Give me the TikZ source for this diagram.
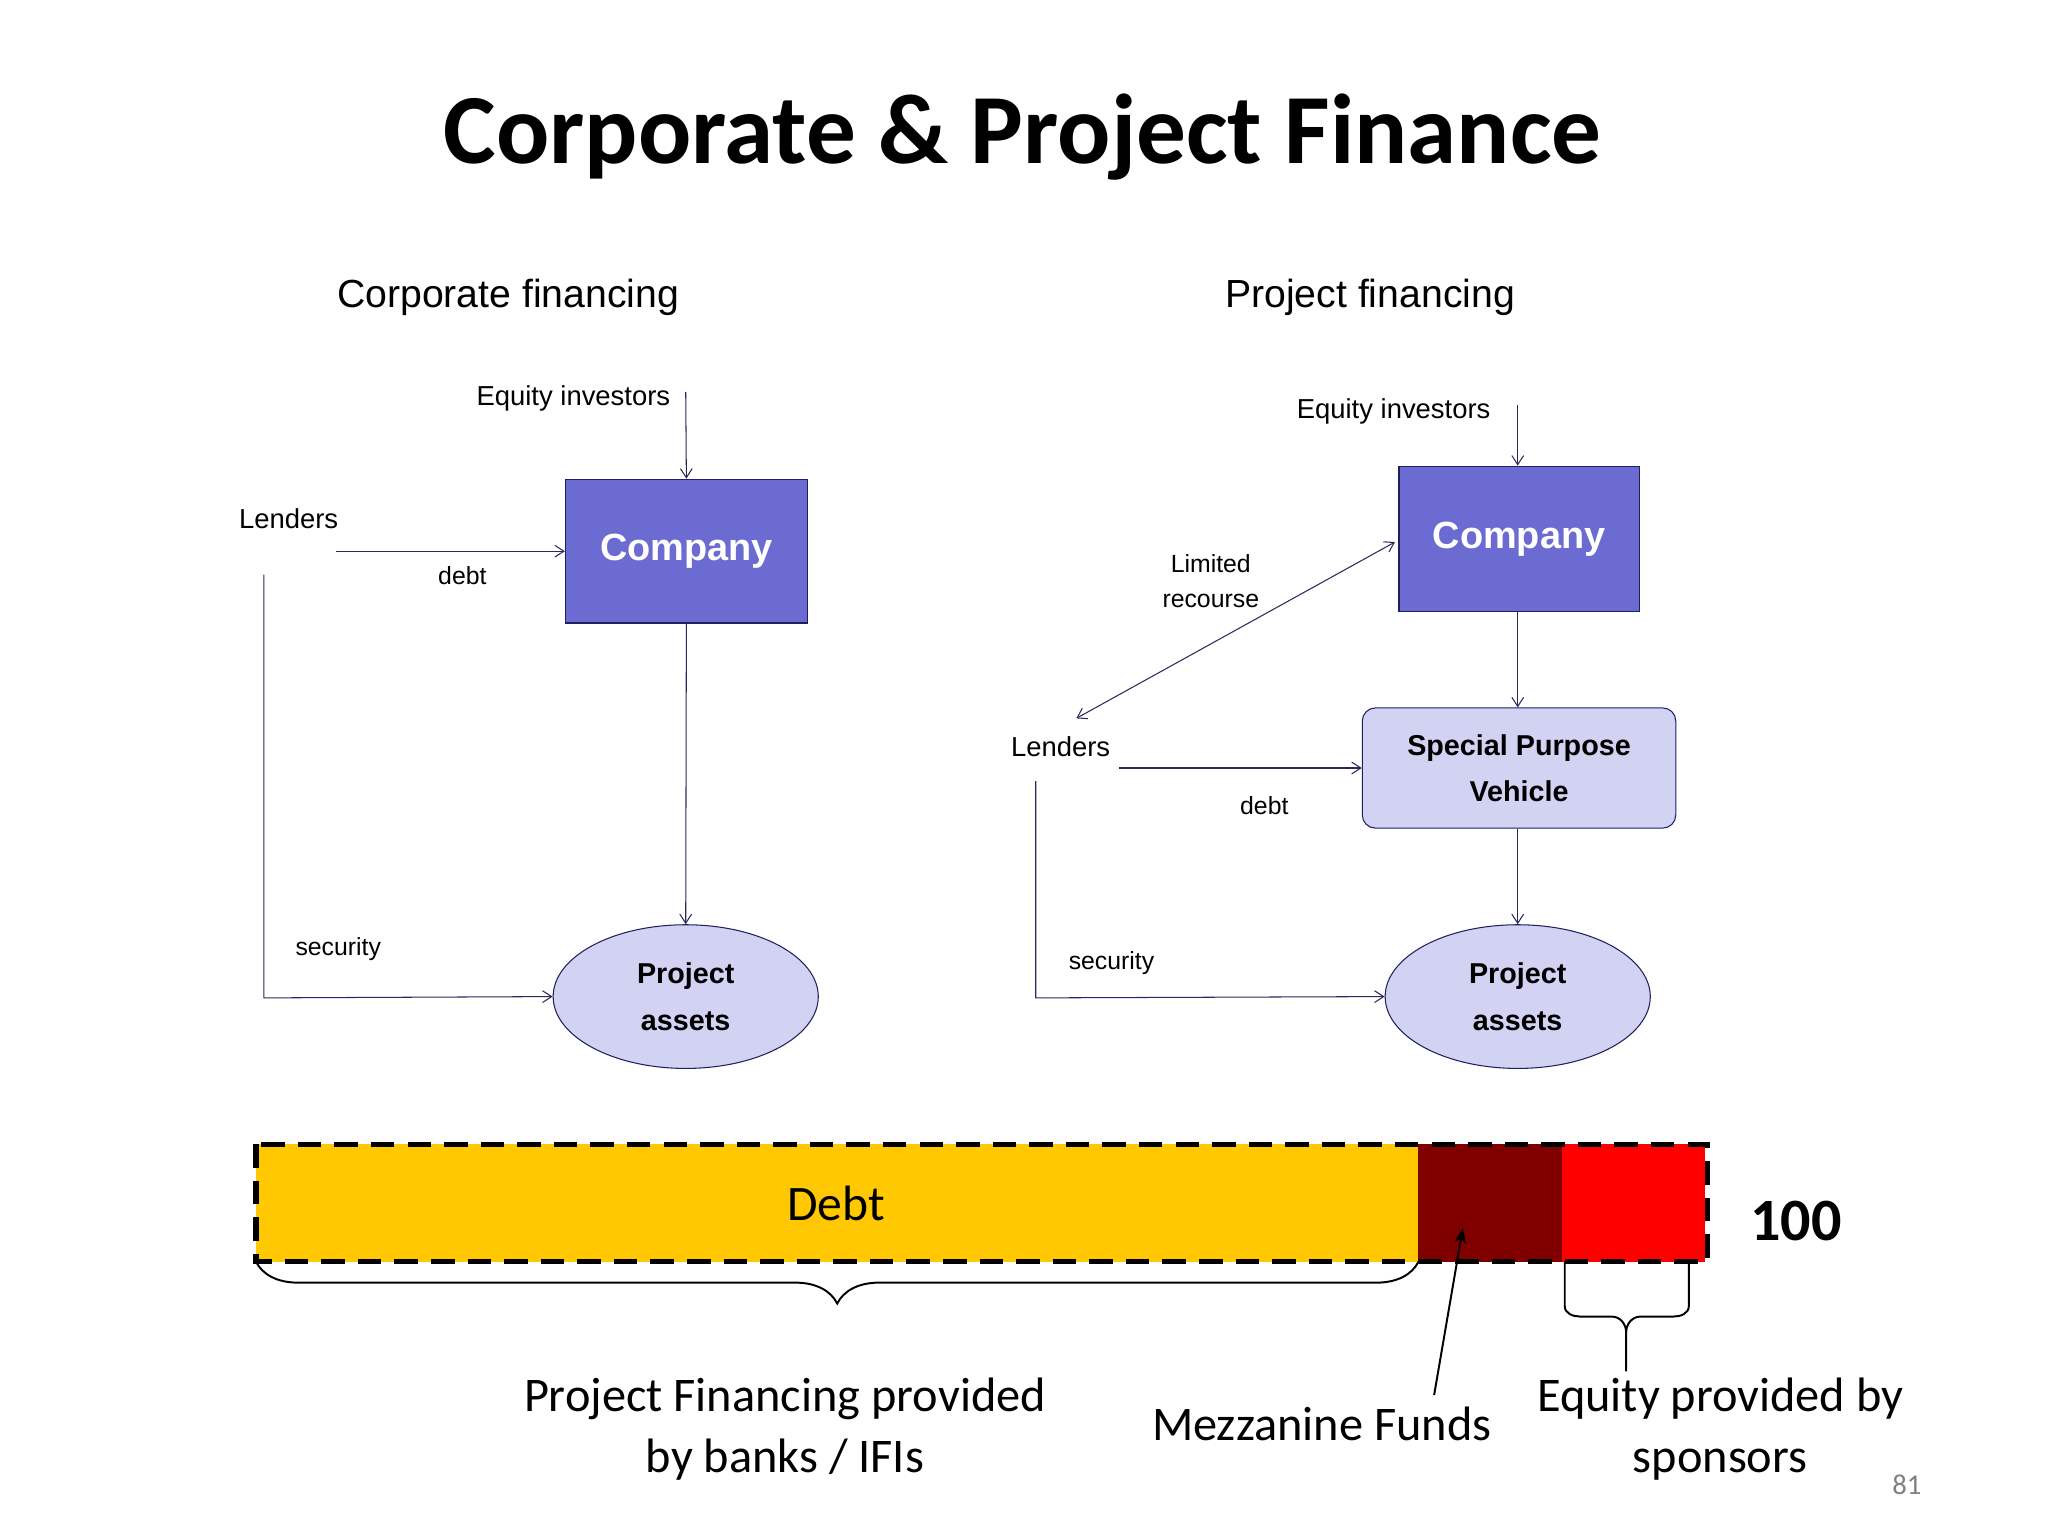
\documentclass[tikz,border=0pt]{standalone}
\usepackage{fontspec}
\setmainfont{Liberation Sans}
\newfontfamily\calfont{Carlito}
\usetikzlibrary{decorations.pathreplacing,arrows.meta,shapes.geometric}
\definecolor{boxblue}{HTML}{6B6BD2}
\definecolor{boxnavy}{HTML}{1F1F5F}
\definecolor{lightv}{HTML}{D2D2F2}
\definecolor{lineblue}{HTML}{2A2A5A}
\definecolor{barY}{HTML}{FFC800}
\definecolor{barM}{HTML}{800000}
\definecolor{barR}{HTML}{FF0000}
\tikzset{
 conn/.style={lineblue,line width=0.8pt,-{Straight Barb[length=7pt,width=9pt]}},
 lbl/.style={font=\fontsize{21}{24}\selectfont,inner sep=0pt},
 smlbl/.style={font=\fontsize{19}{22}\selectfont,inner sep=0pt,align=center},
 compbox/.style={draw=boxnavy,fill=boxblue,line width=1pt,text=white,font=\bfseries\fontsize{29}{32}\selectfont},
 assets/.style={ellipse,draw=boxnavy,fill=lightv,line width=0.8pt,align=center,font=\bfseries\fontsize{22}{36}\selectfont,minimum width=203pt,minimum height=110pt,inner sep=0pt},
 head/.style={font=\fontsize{30}{34}\selectfont,inner sep=0pt},
 big/.style={font=\calfont\fontsize{37}{47}\selectfont,align=center,inner sep=0pt},
}
\begin{document}
\begin{tikzpicture}[x=1pt,y=-1pt]
\useasboundingbox (0,0) rectangle (1568,1176);
\node (title) at (783,105) {\calfont\bfseries\fontsize{76}{80}\selectfont Corporate \& Project Finance};
\node[head] (h1) at (389,228) {Corporate financing};
\node[head] (h2) at (1049,228) {Project financing};
% left
\node[lbl] (eq1) at (439,305) {Equity investors};
\coordinate (eq1s) at (525,300);
\node[compbox,minimum width=185pt,minimum height=110pt] (c1) at (525.5,422) {Company};
\draw[conn] (eq1s) -- (c1.north);
\node[lbl] (l1) at (221,397) {Lenders};
\coordinate (l1a) at (257,422);
\draw[conn] (l1a) -- (c1.west);
\node[smlbl] (d1) at (354,441) {debt};
\node[assets] (pa1) at (525,763) {Project\\assets};
\draw[conn] (c1.south) -- (pa1.north);
\coordinate (s1a) at (202,440);
\coordinate (s1b) at (202,764);
\draw[conn] (s1a) -- (s1b) -- (pa1.west);
\node[smlbl] (sec1) at (259,727) {security};
% right
\node[lbl] (eq2) at (1067,315) {Equity investors};
\coordinate (eq2s) at (1162,310);
\node[compbox,minimum width=184pt,minimum height=111pt] (c2) at (1163,412.5) {Company};
\draw[conn] (eq2s) -- (c2.north -| eq2s);
\node[smlbl,font=\fontsize{19}{27}\selectfont] (lr) at (927,445) {Limited\\recourse};
\coordinate (lrA) at (824,550);
\coordinate (lrB) at (1068,415);
\draw[conn,{Straight Barb[length=7pt,width=9pt]}-{Straight Barb[length=7pt,width=9pt]}] (lrA) -- (lrB);
\node[lbl] (l2) at (812,572) {Lenders};
\node[draw=boxnavy,fill=lightv,rounded corners=10pt,line width=0.8pt,minimum width=240pt,minimum height=92pt,align=center,font=\bfseries\fontsize{22}{35}\selectfont] (spv) at (1163,588) {Special Purpose\\Vehicle};
\coordinate (l2a) at (857,588);
\draw[conn] (l2a) -- (spv.west);
\node[smlbl] (d2) at (968,617) {debt};
\draw[conn] (c2.south -| eq2s) -- (spv.north -| eq2s);
\node[assets] (pa2) at (1162,763) {Project\\assets};
\draw[conn] (spv.south -| eq2s) -- (pa2.north);
\coordinate (s2a) at (793,598);
\coordinate (s2b) at (793,764);
\draw[conn] (s2a) -- (s2b) -- (pa2.west);
\node[smlbl] (sec2) at (851,737) {security};
% bar
\fill[barY] (196,876) rectangle (1086,966);
\fill[barM] (1086,876) rectangle (1196,966);
\fill[barR] (1196,876) rectangle (1305,966);
\draw[line width=4pt,dash pattern=on 18pt off 10pt] (196,876) rectangle (1307,966);
\node[font=\calfont\fontsize{38}{40}\selectfont] (debt) at (640,921) {Debt};
\node[font=\calfont\bfseries\fontsize{46}{50}\selectfont] (hund) at (1375,935) {100};
\draw[line width=1.5pt,decorate,decoration={brace,mirror,amplitude=32pt}] (196,966) -- (1086,966);
\draw[line width=1.5pt] (1198,966) -- (1198,1000) to[out=-90,in=180] (1210,1008) -- (1234,1008) to[out=0,in=90] (1245,1020) -- (1245,1050);
\draw[line width=1.5pt] (1293,966) -- (1293,1000) to[out=-90,in=0] (1281,1008) -- (1256,1008) to[out=180,in=90] (1245,1020);
\node[big] (pf) at (601,1094) {Project Financing provided\\by banks / IFIs};
\node[big] (mz) at (1012,1090) {Mezzanine Funds};
\node[big] (ep) at (1317,1094) {Equity provided by\\sponsors};
\coordinate (mzt) at (1120,940);
\draw[line width=1.5pt,-{Stealth[length=12pt,width=9pt]}] (1098,1068) -- (mzt);
\node[text=gray,font=\calfont\fontsize{22}{24}\selectfont] (pg) at (1460,1137) {81};
\end{tikzpicture}
\end{document}
